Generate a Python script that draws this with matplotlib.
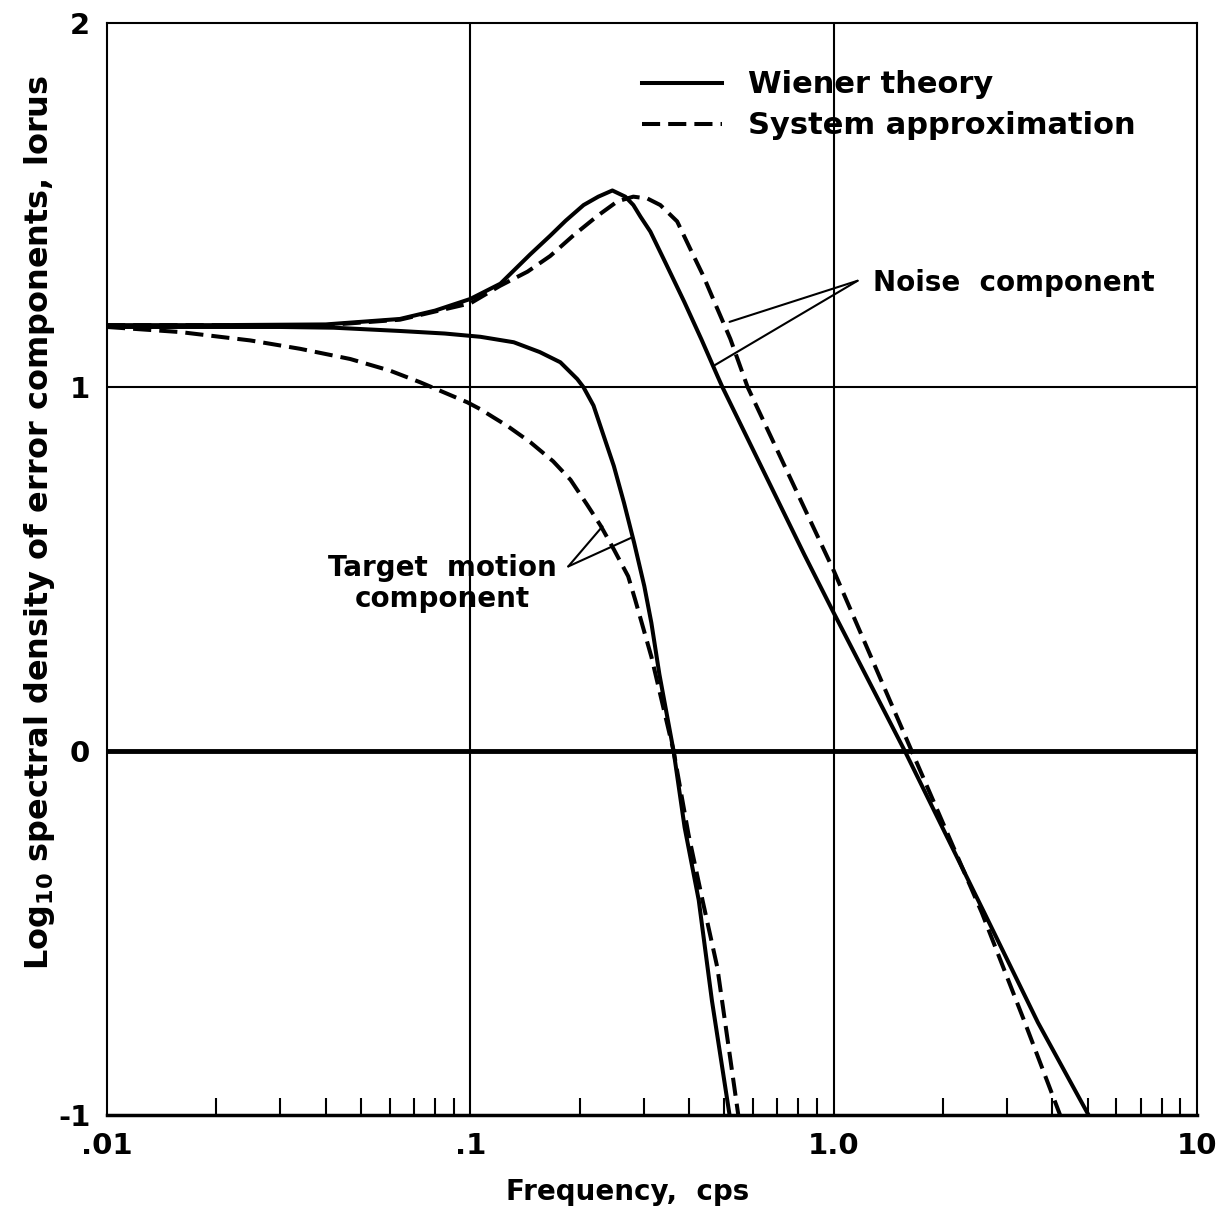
import numpy as np
import matplotlib.pyplot as plt
from matplotlib.ticker import FixedLocator, FixedFormatter, LogLocator, NullFormatter

plt.rcParams['font.family'] = ['DejaVu Sans']
plt.rcParams['font.weight'] = 'bold'

# Noise component, Wiener theory (solid)
noise_wiener_f = [0.01, 0.02, 0.04, 0.064, 0.08, 0.1, 0.121, 0.146, 0.166, 0.183, 0.205, 0.225,
                  0.246, 0.267, 0.281, 0.294, 0.313, 0.345, 0.388, 0.433, 0.479, 0.494,
                  0.83, 1.0, 1.57, 2.6, 3.65, 5.03]
noise_wiener_y = [1.17, 1.17, 1.172, 1.187, 1.21, 1.242, 1.284, 1.364, 1.416, 1.457, 1.50, 1.523,
                  1.54, 1.523, 1.50, 1.468, 1.427, 1.34, 1.234, 1.13, 1.03, 1.0,
                  0.54, 0.38, 0.0, -0.445, -0.746, -1.0]

# Noise component, system approximation (dashed)
noise_approx_f = [0.01, 0.04, 0.064, 0.1, 0.1207, 0.1437, 0.1659, 0.1919, 0.2237, 0.2539, 0.2809,
                  0.3071, 0.3333, 0.3709, 0.4028, 0.4375, 0.4785, 0.5197, 0.5796, 1.0, 1.64,
                  2.56, 3.36, 4.2]
noise_approx_y = [1.17, 1.17, 1.185, 1.23, 1.278, 1.317, 1.36, 1.416, 1.47, 1.51, 1.523,
                  1.518, 1.50, 1.455, 1.38, 1.306, 1.215, 1.132, 1.0, 0.496, 0.0,
                  -0.445, -0.746, -1.0]

# Target motion component, Wiener theory (solid)
target_wiener_f = [0.01, 0.03, 0.042, 0.064, 0.085, 0.1066, 0.1317, 0.1553, 0.1769, 0.1969,
                   0.2047, 0.2183, 0.2328, 0.2483, 0.2648, 0.2824, 0.3012, 0.3150, 0.3315,
                   0.3626, 0.3889, 0.4253, 0.4624, 0.517]
target_wiener_y = [1.165, 1.165, 1.163, 1.154, 1.147, 1.138, 1.123, 1.096, 1.068, 1.022,
                   1.0, 0.949, 0.866, 0.783, 0.682, 0.572, 0.453, 0.352, 0.21,
                   0.0, -0.21, -0.41, -0.686, -1.0]

# Target motion component, system approximation (dashed)
target_approx_f = [0.01, 0.0159, 0.0248, 0.034, 0.0467, 0.0601, 0.0728, 0.0981, 0.1066, 0.1156,
                   0.1265, 0.1464, 0.169, 0.1887, 0.2092, 0.2281, 0.2483, 0.2719, 0.2842,
                   0.315, 0.3626, 0.3987, 0.4356, 0.4785, 0.5464]
target_approx_y = [1.165, 1.151, 1.128, 1.105, 1.077, 1.045, 1.013, 0.958, 0.939, 0.917,
                   0.893, 0.848, 0.796, 0.745, 0.678, 0.62, 0.554, 0.48, 0.416,
                   0.259, 0.0, -0.23, -0.41, -0.595, -1.0]

x_ticks = [0.01, 0.1, 1.0, 10]
x_labels = ['.01', '.1', '1.0', '10']
y_ticks = [-1, 0, 1, 2]
y_labels = ['-1', '0', '1', '2']

fig = plt.figure(figsize=(12.26, 12.2), dpi=100)
ax = fig.add_axes([0.0873, 0.0861, 0.889, 0.895])

# grid lines
for gx in [0.1, 1.0]:
    ax.axvline(gx, color='black', lw=1.5, zorder=1)
ax.axhline(1, color='black', lw=1.5, zorder=1)
ax.axhline(0, color='black', lw=3.5, zorder=1)

dash = (4.5, 2.0)
ax.plot(noise_wiener_f, noise_wiener_y, color='black', lw=2.9, label='Wiener theory',
        solid_joinstyle='round', zorder=3)
ax.plot(noise_approx_f, noise_approx_y, color='black', lw=2.9, dashes=dash,
        label='System approximation', zorder=3)
ax.plot(target_wiener_f, target_wiener_y, color='black', lw=2.9, solid_joinstyle='round', zorder=3)
ax.plot(target_approx_f, target_approx_y, color='black', lw=2.9, dashes=dash, zorder=3)

ax.set_xscale('log')
ax.set_xlim(0.01, 10)
ax.set_ylim(-1, 2)

ax.xaxis.set_major_locator(FixedLocator(x_ticks))
ax.xaxis.set_major_formatter(FixedFormatter(x_labels))
ax.xaxis.set_minor_locator(LogLocator(base=10, subs=np.arange(2, 10)))
ax.xaxis.set_minor_formatter(NullFormatter())
ax.yaxis.set_major_locator(FixedLocator(y_ticks))
ax.yaxis.set_major_formatter(FixedFormatter(y_labels))
ax.tick_params(axis='x', which='major', length=0, labelsize=21, pad=12)
ax.tick_params(axis='x', which='minor', direction='in', length=12, width=1.5, top=False)
ax.tick_params(axis='y', which='major', length=0, labelsize=21, pad=12)

for s in ['left', 'right', 'top']:
    ax.spines[s].set_linewidth(1.5)
ax.spines['bottom'].set_linewidth(2.5)

ax.set_xlabel('Frequency,  cps', fontsize=20, fontweight='bold')
ax.xaxis.set_label_coords(0.478, -0.058)
ax.set_ylabel('Log$_{\\mathbf{10}}$ spectral density of error components, lorus',
              fontsize=23, fontweight='bold')
ax.yaxis.set_label_coords(-0.046, 0.543)

leg = ax.legend(loc='upper left', bbox_to_anchor=(0.48, 0.968), frameon=False, fontsize=22,
                handlelength=2.6, handletextpad=0.85, labelspacing=0.4, borderaxespad=0)

# annotations
ax.text(0.0838, 0.46, 'Target  motion\ncomponent', fontsize=20, fontweight='bold',
        ha='center', va='center', linespacing=1.15)
for pt in [(0.231, 0.617), (0.279, 0.587)]:
    ax.annotate('', xy=pt, xytext=(0.186, 0.507),
                arrowprops=dict(arrowstyle='-', color='black', lw=1.5, shrinkA=0, shrinkB=0))

ax.text(1.28, 1.287, 'Noise  component', fontsize=20, fontweight='bold', ha='left', va='center')
for pt in [(0.517, 1.179), (0.467, 1.058)]:
    ax.annotate('', xy=pt, xytext=(1.164, 1.292),
                arrowprops=dict(arrowstyle='-', color='black', lw=1.5, shrinkA=0, shrinkB=0))

fig.savefig('out.png', dpi=100)
